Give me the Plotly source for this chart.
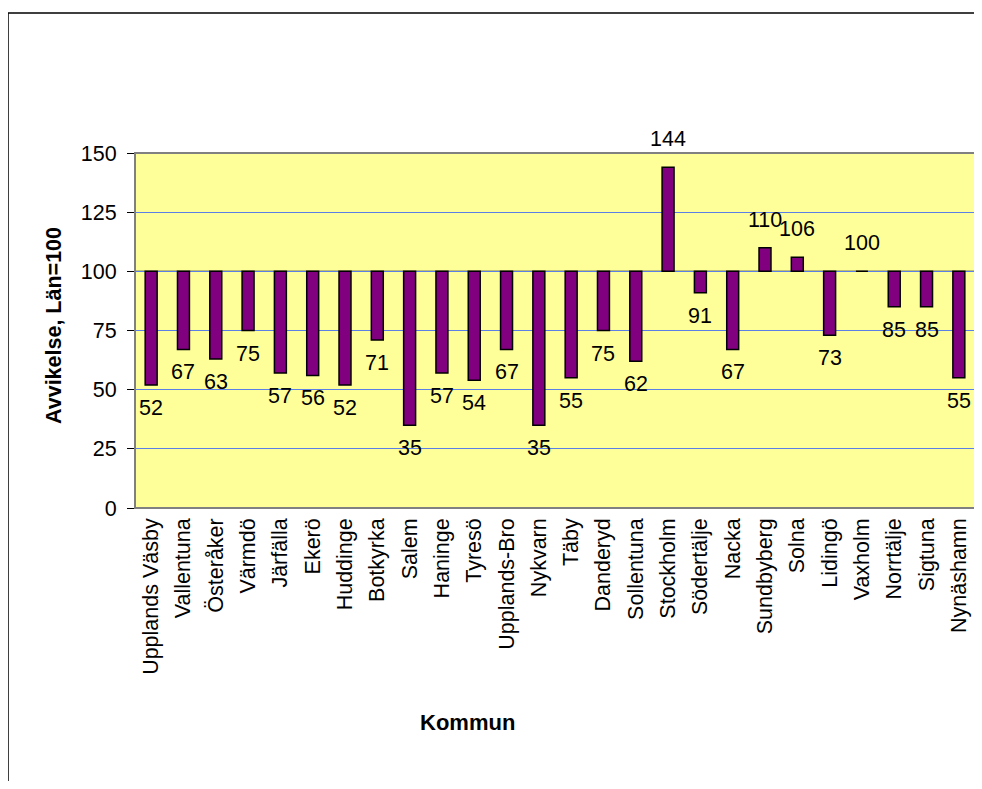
import plotly.graph_objects as go

kommuner = ["Upplands Väsby", "Vallentuna", "Österåker", "Värmdö", "Järfälla", "Ekerö",
            "Huddinge", "Botkyrka", "Salem", "Haninge", "Tyresö", "Upplands-Bro", "Nykvarn",
            "Täby", "Danderyd", "Sollentuna", "Stockholm", "Södertälje", "Nacka", "Sundbyberg",
            "Solna", "Lidingö", "Vaxholm", "Norrtälje", "Sigtuna", "Nynäshamn"]
varden = [52, 67, 63, 75, 57, 56, 52, 71, 35, 57, 54, 67, 35, 55, 75, 62, 144, 91, 67, 110,
          106, 73, 100, 85, 85, 55]
bas = 100
y_ticks = [0, 25, 50, 75, 100, 125, 150]

# page has an 8px body margin; the figure is sized/placed to compensate
OFF = 8
W, H = 982 - OFF, 789 - 2 * OFF
L, R, T = 135 - OFF, 7, 153 - OFF
B = H - (508 - OFF)
pw, ph = W - L - R, H - T - B

FONT = "Liberation Sans, Arial, sans-serif"
FS = 21.5

fig = go.Figure()
fig.add_trace(go.Bar(
    x=kommuner,
    y=[v - bas for v in varden],
    base=bas,
    marker=dict(color="#800080", line=dict(color="#000000", width=1.5)),
    width=0.37,
    hoverinfo="skip",
))

for k, v in zip(kommuner, varden):
    up = v >= bas
    fig.add_annotation(x=k, y=v, xref="x", yref="y", text=str(v), showarrow=False,
                       yshift=28 if up else -23, yanchor="middle",
                       font=dict(family=FONT, size=FS, color="#000000"))

# 100 reference line (category axis crossing)
fig.add_shape(type="line", xref="paper", yref="y", x0=0, x1=1, y0=bas, y1=bas,
              line=dict(color="#000000", width=1.2), layer="below")
# plot area border
fig.add_shape(type="rect", xref="paper", yref="paper", x0=0, x1=1, y0=0, y1=1,
              line=dict(color="#808080", width=2))
# outer chart frame: only its top and left edges fall inside the picture
fx = (8 - OFF - L) / pw
fy = 1 + (T - (13 - OFF)) / ph
fig.add_shape(type="rect", xref="paper", yref="paper", x0=fx, x1=1.3, y0=-1.2, y1=fy,
              line=dict(color="#000000", width=1.5), layer="below")

fig.add_annotation(text="<b>Avvikelse, Län=100</b>", xref="paper", yref="paper",
                   x=(54 - OFF - L) / pw, y=1 - (326 - OFF - T) / ph, textangle=-90,
                   showarrow=False, xanchor="center", yanchor="middle",
                   font=dict(family=FONT, size=21.5, color="#000000"))
fig.add_annotation(text="<b>Kommun</b>", xref="paper", yref="paper",
                   x=(467 - OFF - L) / pw, y=-(722 - OFF - (T + ph)) / ph, showarrow=False,
                   xanchor="center", yanchor="middle",
                   font=dict(family=FONT, size=22, color="#000000"))

fig.update_layout(
    width=W, height=H,
    margin=dict(l=L, r=R, t=T, b=B, autoexpand=False),
    paper_bgcolor="#FFFFFF",
    plot_bgcolor="#FFFF99",
    showlegend=False,
    bargap=0.63,
    font=dict(family=FONT, size=FS, color="#000000"),
)
fig.update_xaxes(
    type="category", tickangle=-90, showgrid=False, ticks="", showline=False,
    zeroline=False, ticklabelstandoff=5,
    tickfont=dict(family=FONT, size=FS, color="#000000"),
)
fig.update_yaxes(
    range=[0, 150], tickvals=y_ticks, ticks="outside", ticklen=7, tickcolor="#000000",
    tickwidth=1.2, showline=True, linecolor="#000000", linewidth=1.2,
    showgrid=True, gridcolor="#5A7FE6", gridwidth=1, zeroline=False,
    ticklabelstandoff=6,
    tickfont=dict(family=FONT, size=FS, color="#000000"),
)

fig.write_html("out.html", config={"displayModeBar": False})
